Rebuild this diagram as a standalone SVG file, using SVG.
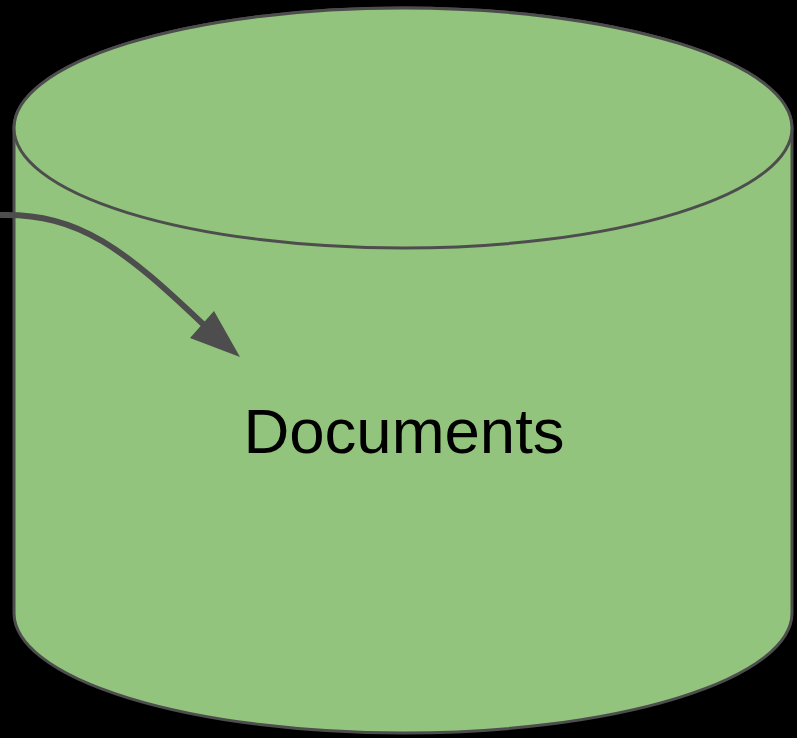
<svg xmlns="http://www.w3.org/2000/svg" width="797" height="738" viewBox="0 0 797 738">
  <style>
    .shape { fill: #93c47d; stroke: #4d4d4d; stroke-width: 3; }
    .label { font-family: "Liberation Sans", Arial, sans-serif; font-size: 63.5px; fill: #000000; }
    .conn { fill: none; stroke: #4d4d4d; stroke-width: 6; }
    .head { fill: #4d4d4d; }
  </style>
  <rect x="0" y="0" width="797" height="738" fill="#000000"/>
  <g id="documents">
    <path class="shape" d="M14,128 L14,613 A389,120 0 0 0 792,613 L792,128 A389,120 0 0 0 14,128 Z"/>
    <ellipse class="shape" cx="403" cy="128" rx="389" ry="120"/>
    <text class="label" x="404" y="453" text-anchor="middle">Documents</text>
  </g>
  <g id="connectors">
    <path class="conn" d="M0,215 C80,213 125,250 205,326"/>
    <polygon class="head" points="240,357 190,338 214,311"/>
  </g>
</svg>
